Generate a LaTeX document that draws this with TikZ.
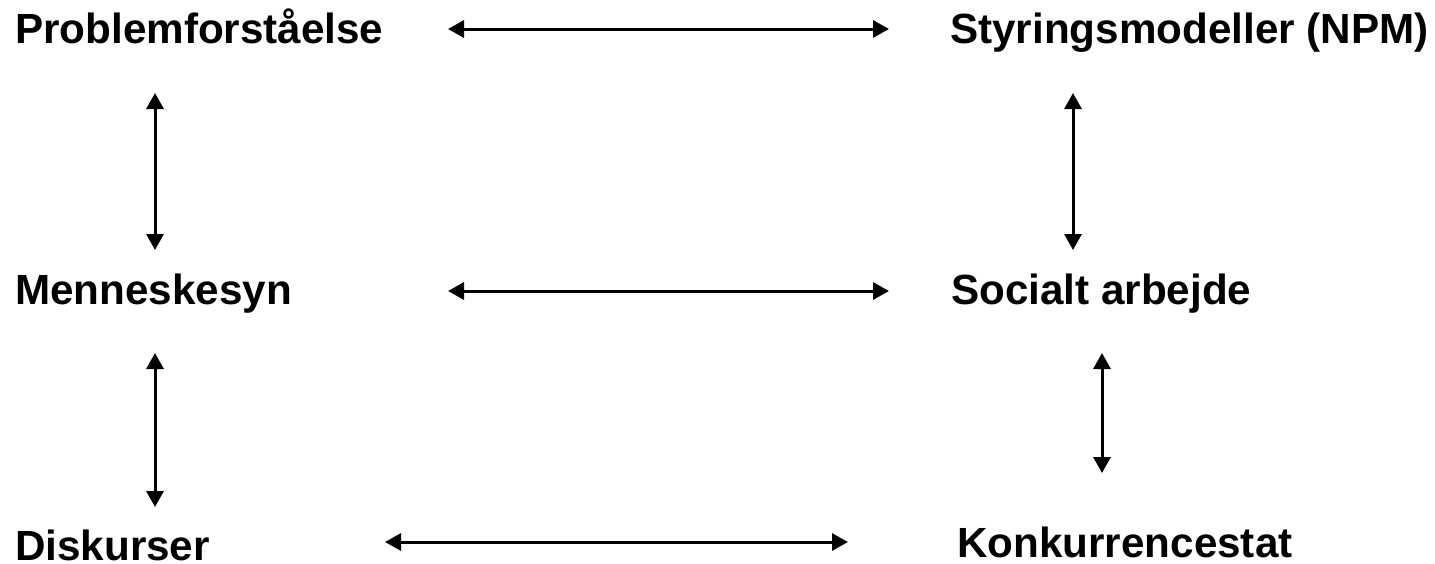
\documentclass[tikz,border=0pt]{standalone}
\usepackage{fontspec}
\setmainfont{Liberation Sans}
\usetikzlibrary{arrows.meta}
\begin{document}
\begin{tikzpicture}[x=1pt,y=-1pt,
  lbl/.style={anchor=base west,inner sep=0pt,font=\bfseries\fontsize{42.2}{50}\selectfont},
  link/.style={line width=3pt,{Triangle[length=16pt,width=17pt]}-{Triangle[length=16pt,width=17pt]}}]
\useasboundingbox (0,0) rectangle (1435,563);
\node[lbl] (prob) at (15,43) {Problemforståelse};
\node[lbl] (styr) at (950,43) {Styringsmodeller (NPM)};
\node[lbl] (menn) at (15,304) {Menneskesyn};
\node[lbl] (soc) at (951,304) {Socialt arbejde};
\node[lbl] (disk) at (15,560) {Diskurser};
\node[lbl] (konk) at (957,557) {Konkurrencestat};
\coordinate (h1a) at (448,29); \coordinate (h1b) at (889,29);
\coordinate (h2a) at (448,291); \coordinate (h2b) at (889,291);
\coordinate (h3a) at (385,542); \coordinate (h3b) at (848,542);
\coordinate (v1a) at (155,93); \coordinate (v1b) at (155,250);
\coordinate (v2a) at (155,353); \coordinate (v2b) at (155,507);
\coordinate (v3a) at (1073,93); \coordinate (v3b) at (1073,250);
\coordinate (v4a) at (1102,353); \coordinate (v4b) at (1102,473);
\draw[link] (h1a) -- (h1b);
\draw[link] (h2a) -- (h2b);
\draw[link] (h3a) -- (h3b);
\draw[link] (v1a) -- (v1b);
\draw[link] (v2a) -- (v2b);
\draw[link] (v3a) -- (v3b);
\draw[link] (v4a) -- (v4b);
\end{tikzpicture}
\end{document}
